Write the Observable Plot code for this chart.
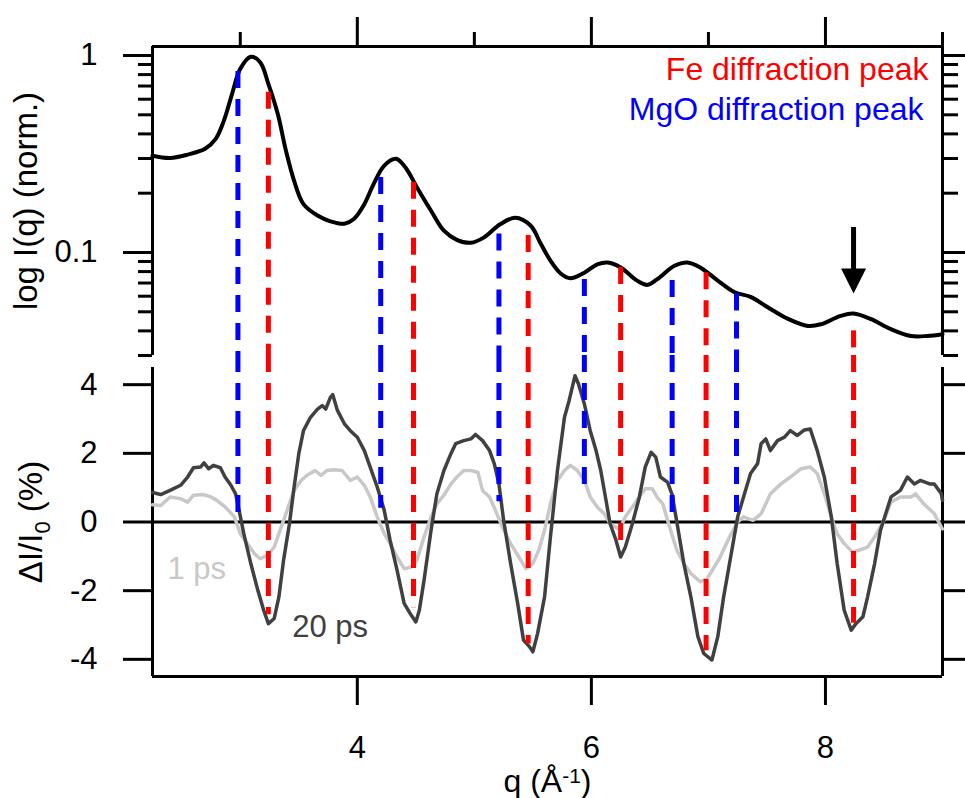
<!DOCTYPE html>
<html>
<head>
<meta charset="utf-8">
<script src="https://cdn.jsdelivr.net/npm/d3@7"></script>
<script src="https://cdn.jsdelivr.net/npm/@observablehq/plot@0.6"></script>
<style>
  html, body { margin: 0; padding: 0; background: #fff; }
  #chart { position: relative; width: 965px; height: 798px; overflow: hidden; }
  #chart svg { position: absolute; left: 0; }
</style>
</head>
<body>
<div id="chart"></div>
<script>
// ---------- data ----------
// top panel: normalised scattering intensity I(q), log scale
const qTop = [2.25, 2.40, 2.55, 2.70, 2.79, 2.86, 2.93, 3.00, 3.09, 3.17, 3.24, 3.32, 3.39, 3.46, 3.54, 3.66, 3.77, 3.89, 3.97, 4.06, 4.14, 4.23, 4.33, 4.41, 4.51, 4.63, 4.74, 4.85, 4.97, 5.08, 5.22, 5.35, 5.48, 5.57, 5.65, 5.74, 5.82, 5.94, 6.05, 6.14, 6.25, 6.39, 6.48, 6.56, 6.71, 6.82, 6.93, 7.08, 7.22, 7.36, 7.50, 7.68, 7.85, 7.96, 8.13, 8.24, 8.39, 8.56, 8.73, 8.87, 9.00];
const iTop = [0.31, 0.302, 0.314, 0.336, 0.377, 0.467, 0.639, 0.856, 0.985, 0.925, 0.718, 0.506, 0.329, 0.231, 0.176, 0.154, 0.144, 0.140, 0.148, 0.176, 0.223, 0.276, 0.299, 0.271, 0.214, 0.163, 0.129, 0.116, 0.112, 0.119, 0.139, 0.150, 0.137, 0.110, 0.091, 0.078, 0.074, 0.079, 0.087, 0.089, 0.084, 0.072, 0.0685, 0.073, 0.0856, 0.089, 0.084, 0.072, 0.063, 0.0595, 0.053, 0.046, 0.0424, 0.0432, 0.0477, 0.049, 0.0459, 0.0408, 0.0377, 0.0377, 0.0385];

// bottom panel: difference signal ΔI/I0 (%) at 20 ps
const q20 = [2.25, 2.32, 2.40, 2.49, 2.55, 2.60, 2.66, 2.69, 2.73, 2.77, 2.83, 2.87, 2.92, 2.96, 2.99, 3.03, 3.09, 3.15, 3.20, 3.24, 3.29, 3.33, 3.37, 3.42, 3.46, 3.50, 3.54, 3.60, 3.66, 3.70, 3.73, 3.77, 3.79, 3.83, 3.89, 3.94, 4.00, 4.06, 4.11, 4.17, 4.23, 4.28, 4.34, 4.40, 4.46, 4.50, 4.53, 4.57, 4.63, 4.68, 4.74, 4.80, 4.84, 4.91, 4.97, 5.01, 5.07, 5.13, 5.17, 5.21, 5.25, 5.31, 5.37, 5.42, 5.47, 5.50, 5.54, 5.60, 5.65, 5.71, 5.77, 5.81, 5.86, 5.89, 5.94, 5.99, 6.04, 6.08, 6.12, 6.16, 6.21, 6.25, 6.29, 6.35, 6.41, 6.46, 6.51, 6.55, 6.59, 6.65, 6.69, 6.73, 6.79, 6.85, 6.91, 6.96, 7.03, 7.08, 7.13, 7.19, 7.25, 7.30, 7.36, 7.42, 7.45, 7.49, 7.53, 7.59, 7.65, 7.70, 7.76, 7.82, 7.87, 7.93, 7.99, 8.05, 8.10, 8.16, 8.22, 8.26, 8.32, 8.36, 8.42, 8.47, 8.56, 8.64, 8.70, 8.76, 8.81, 8.89, 8.93, 8.99, 9.00];
const d20 = [0.86, 0.80, 0.92, 1.07, 1.31, 1.58, 1.60, 1.72, 1.55, 1.65, 1.58, 1.31, 1.07, 0.82, 0.34, -0.34, -1.21, -1.99, -2.57, -2.96, -2.81, -2.18, -1.11, -0.05, 1.02, 1.99, 2.66, 3.05, 3.29, 3.39, 3.29, 3.63, 3.71, 3.25, 2.86, 2.66, 2.47, 2.08, 1.60, 1.02, 0.34, -0.53, -1.41, -2.37, -2.71, -2.91, -2.57, -1.70, -0.24, 0.82, 1.50, 1.99, 2.28, 2.37, 2.42, 2.55, 2.37, 2.08, 1.70, 1.11, 0.05, -1.21, -2.37, -3.44, -3.63, -3.78, -3.25, -2.18, -0.44, 1.50, 3.05, 3.54, 4.26, 4.02, 3.44, 2.66, 2.08, 1.50, 0.73, -0.05, -0.53, -1.02, -0.73, -0.05, 0.73, 1.60, 2.03, 1.89, 1.31, 1.16, 0.80, 0.0, -1.21, -2.18, -3.34, -3.83, -4.02, -3.34, -2.18, -1.02, 0.15, 0.73, 1.41, 1.70, 2.28, 2.42, 2.08, 2.37, 2.47, 2.66, 2.52, 2.68, 2.71, 2.08, 1.31, 0.15, -1.21, -2.57, -3.15, -2.96, -2.76, -2.18, -1.21, -0.24, 0.73, 0.92, 1.31, 1.11, 1.21, 1.11, 1.11, 0.82, 0.63];

// bottom panel: difference signal ΔI/I0 (%) at 1 ps
const q1 = [2.25, 2.32, 2.40, 2.49, 2.55, 2.60, 2.68, 2.75, 2.80, 2.87, 2.95, 3.00, 3.06, 3.12, 3.17, 3.23, 3.29, 3.34, 3.40, 3.46, 3.52, 3.57, 3.64, 3.69, 3.74, 3.80, 3.87, 3.94, 4.00, 4.06, 4.11, 4.17, 4.23, 4.28, 4.34, 4.40, 4.46, 4.51, 4.57, 4.63, 4.68, 4.74, 4.80, 4.85, 4.91, 4.97, 5.03, 5.07, 5.13, 5.18, 5.24, 5.31, 5.38, 5.44, 5.50, 5.55, 5.60, 5.65, 5.71, 5.77, 5.82, 5.88, 5.94, 5.99, 6.05, 6.11, 6.16, 6.24, 6.29, 6.35, 6.41, 6.46, 6.52, 6.56, 6.61, 6.66, 6.73, 6.79, 6.85, 6.93, 6.99, 7.05, 7.10, 7.18, 7.25, 7.30, 7.38, 7.45, 7.53, 7.62, 7.70, 7.79, 7.87, 7.93, 7.99, 8.05, 8.10, 8.16, 8.23, 8.29, 8.36, 8.42, 8.50, 8.56, 8.64, 8.73, 8.77, 8.84, 8.93, 8.99, 9.00];
const d1 = [0.50, 0.48, 0.73, 0.68, 0.58, 0.78, 0.80, 0.73, 0.63, 0.44, 0.15, -0.34, -0.63, -0.92, -1.07, -0.97, -0.73, -0.24, 0.34, 0.92, 1.21, 1.36, 1.50, 1.36, 1.50, 1.52, 1.50, 1.21, 1.31, 1.07, 0.73, 0.15, -0.34, -0.63, -1.02, -1.36, -1.31, -1.11, -0.44, 0.15, 0.53, 0.78, 1.11, 1.31, 1.50, 1.50, 1.45, 0.92, 0.73, 0.34, -0.15, -0.63, -1.02, -1.36, -1.21, -0.82, -0.24, 0.53, 1.21, 1.50, 1.65, 1.50, 1.21, 0.73, 0.44, 0.24, -0.05, -0.22, 0.15, 0.44, 0.73, 0.97, 0.97, 0.73, 0.53, -0.05, -0.82, -1.21, -1.50, -1.74, -1.65, -1.31, -1.02, -0.44, 0.0, 0.15, 0.05, 0.24, 0.82, 1.11, 1.31, 1.55, 1.60, 1.41, 0.82, 0.15, -0.34, -0.63, -0.87, -0.82, -0.73, -0.44, 0.05, 0.58, 0.73, 0.73, 0.82, 0.53, 0.24, -0.15, -0.20];

// diffraction peak markers: q, upper end (top panel, I), lower end (bottom panel, %)
const feQ = [3.24, 4.48, 5.46, 6.25, 6.98, 8.24];
const feTop = [0.65, 0.227, 0.122, 0.084, 0.079, 0.040];
const feBottom = [-2.7, -2.5, -3.55, -0.85, -3.75, -2.95];
const mgoQ = [2.98, 4.20, 5.21, 5.94, 6.69, 7.24];
const mgoTop = [0.83, 0.240, 0.124, 0.073, 0.072, 0.0615];
const mgoBottom = [0.1, 0.4, 0.59, 0.93, 0.05, 0.1];

// arrow marking the peak near 8.24 Å^-1
const arrowQ = [8.24];
const arrowStart = [0.134];
const arrowNeck = [0.078];
const arrowTip = [0.062];

// axes
const xDomain = [2.25, 9];
const xMajorTicks = [4, 6, 8];
const xMajorLabels = ["4", "6", "8"];
const xMinorTicks = [3, 5, 7, 9];
const yTopDomain = [0.03, 1.111];
const yTopMajor = [0.1, 1];
const yTopLabels = ["0.1", "1"];
const yTopMinor = [0.03, 0.04, 0.05, 0.06, 0.07, 0.08, 0.09, 0.2, 0.3, 0.4, 0.5, 0.6, 0.7, 0.8, 0.9];
const yBotDomain = [-4.5, 4.5];
const yBotTicks = [-4, -2, 0, 2, 4];
const yBotLabels = ["-4", "-2", "0", "2", "4"];

// texts
const topYTitle = "log I(q) (norm.)";
const botYTitleParts = ["ΔI/I", "0", " (%)"];
const xTitleParts = ["q (Å", "-1", ")"];
const feLabel = "Fe diffraction peak";
const mgoLabel = "MgO diffraction peak";
const label1ps = "1 ps";
const label20ps = "20 ps";

// ---------- build tables ----------
const topData = qTop.map((q, i) => ({q, I: iTop[i]}));
const data20 = q20.map((q, i) => ({q, v: d20[i]}));
const data1 = q1.map((q, i) => ({q, v: d1[i]}));
const feData = feQ.map((q, i) => ({q, top: feTop[i], bottom: feBottom[i]}));
const mgoData = mgoQ.map((q, i) => ({q, top: mgoTop[i], bottom: mgoBottom[i]}));
const arrowData = arrowQ.map((q, i) => ({q, start: arrowStart[i], neck: arrowNeck[i], tip: arrowTip[i]}));

const FONT = '"Liberation Sans", Arial, Helvetica, sans-serif';
const STYLE = `font-family: ${FONT}; font-size: 31px; color: #000; background: transparent; overflow: visible;`;
const RED = "#ff0000", BLUE = "#0000ff";
const DASH = "17,11";
const AX = 3;
const TICKFONT = 31;

const lab = (ticks, labels) => { const m = new Map(ticks.map((t, i) => [t, labels[i]])); return d => m.get(d) ?? ""; };
const none = () => "";

const arrowHead = { draw(ctx) { ctx.moveTo(0, 0); ctx.lineTo(-12.5, -25); ctx.lineTo(12.5, -25); ctx.closePath(); } };

// ---------- top panel ----------
const topPlot = Plot.plot({
  width: 965, height: 355,
  marginTop: 46, marginBottom: 0, marginLeft: 152, marginRight: 23,
  style: STYLE,
  x: {domain: xDomain},
  y: {type: "log", domain: yTopDomain},
  marks: [
    // frame lines (top, left, right)
    Plot.ruleY([yTopDomain[1]], {stroke: "#000", strokeWidth: AX}),
    Plot.ruleX(xDomain, {stroke: "#000", strokeWidth: AX}),
    Plot.axisX({ticks: xMajorTicks, anchor: "top", tickSize: 30, tickFormat: none, label: null, strokeWidth: AX}),
    Plot.axisX({ticks: xMinorTicks, anchor: "top", tickSize: 15, tickFormat: none, label: null, strokeWidth: AX}),
    Plot.axisY({ticks: yTopMajor, anchor: "left", tickSize: 29, tickPadding: 26, tickFormat: lab(yTopMajor, yTopLabels), label: null, strokeWidth: AX, fontSize: TICKFONT}),
    Plot.axisY({ticks: yTopMinor, anchor: "left", tickSize: 14, tickFormat: none, label: null, strokeWidth: AX}),
    Plot.axisY({ticks: yTopMajor, anchor: "right", tickSize: 29, tickFormat: none, label: null, strokeWidth: AX}),
    Plot.axisY({ticks: yTopMinor, anchor: "right", tickSize: 15, tickFormat: none, label: null, strokeWidth: AX}),
    // curve
    Plot.line(topData, {x: "q", y: "I", curve: "catmull-rom", stroke: "#000", strokeWidth: 4}),
    // peak markers
    Plot.ruleX(mgoData, {x: "q", y1: "top", y2: yTopDomain[0], stroke: BLUE, strokeWidth: 5, strokeDasharray: DASH}),
    Plot.ruleX(feData, {x: "q", y1: "top", y2: yTopDomain[0], stroke: RED, strokeWidth: 5, strokeDasharray: DASH}),
    // arrow
    Plot.ruleX(arrowData, {x: "q", y1: "start", y2: "neck", stroke: "#000", strokeWidth: 5}),
    Plot.dot(arrowData, {x: "q", y: "tip", symbol: arrowHead, fill: "#000", stroke: "none"}),
    // legend texts
    Plot.text([feLabel], {text: d => d, frameAnchor: "top-right", textAnchor: "end", lineAnchor: "top", dx: -14, dy: 11, fill: RED, fontSize: 32}),
    Plot.text([mgoLabel], {text: d => d, frameAnchor: "top-right", textAnchor: "end", lineAnchor: "top", dx: -19, dy: 51, fill: BLUE, fontSize: 32}),
    // y title
    Plot.text([topYTitle], {text: d => d, frameAnchor: "left", textAnchor: "middle", lineAnchor: "middle", rotate: -90, dx: -126, fontSize: 33, fill: "#000"})
  ]
});

// ---------- bottom panel ----------
const botPlot = Plot.plot({
  width: 965, height: 443,
  marginTop: 12, marginBottom: 122, marginLeft: 152, marginRight: 23,
  style: STYLE,
  x: {domain: xDomain},
  y: {domain: yBotDomain},
  marks: [
    Plot.ruleX(xDomain, {stroke: "#000", strokeWidth: AX}),
    Plot.ruleY([yBotDomain[0]], {stroke: "#000", strokeWidth: AX}),
    Plot.ruleY([0], {stroke: "#000", strokeWidth: AX}),
    Plot.axisX({ticks: xMajorTicks, anchor: "bottom", tickSize: 29, tickPadding: 30, tickFormat: lab(xMajorTicks, xMajorLabels), label: null, strokeWidth: AX, fontSize: TICKFONT}),
    Plot.axisY({ticks: yBotTicks, anchor: "left", tickSize: 29, tickPadding: 26, tickFormat: lab(yBotTicks, yBotLabels), label: null, strokeWidth: AX, fontSize: TICKFONT}),
    Plot.axisY({ticks: yBotTicks, anchor: "right", tickSize: 29, tickFormat: none, label: null, strokeWidth: AX}),
    // curves
    Plot.line(data1, {x: "q", y: "v", stroke: "#c8c8c8", strokeWidth: 3.5, strokeLinejoin: "round"}),
    Plot.line(data20, {x: "q", y: "v", stroke: "#404040", strokeWidth: 3.5, strokeLinejoin: "round"}),
    // peak markers continuing from the top panel (start just above the frame, at the SVG top edge)
    Plot.ruleX(mgoData, {x: "q", y1: yBotDomain[1] + 0.35, y2: "bottom", stroke: BLUE, strokeWidth: 5, strokeDasharray: DASH}),
    Plot.ruleX(feData, {x: "q", y1: yBotDomain[1] + 0.35, y2: "bottom", stroke: RED, strokeWidth: 5, strokeDasharray: DASH}),
    // series labels
    Plot.text([label1ps], {text: d => d, x: 2.378, y: -1.36, textAnchor: "start", lineAnchor: "middle", fill: "#c8c8c8", fontSize: TICKFONT}),
    Plot.text([label20ps], {text: d => d, x: 3.444, y: -3.06, textAnchor: "start", lineAnchor: "middle", fill: "#404040", fontSize: TICKFONT}),
    // titles
    Plot.text([botYTitleParts.join("")], {text: d => d, frameAnchor: "left", textAnchor: "middle", lineAnchor: "middle", rotate: -90, dx: -121, fontSize: 33, fill: "#000"}),
    Plot.text([xTitleParts.join("")], {text: d => d, frameAnchor: "bottom", textAnchor: "middle", lineAnchor: "middle", dy: 105, fontSize: 32, fill: "#000"})
  ]
});

// sub/superscripts in the titles
function scriptify(svg, parts, shift, small) {
  const full = parts.join("");
  d3.select(svg).selectAll("text").filter(function () { return this.textContent === full; }).each(function () {
    const t = d3.select(this);
    t.text(parts[0]);
    t.append("tspan").attr("dy", shift).attr("font-size", small).text(parts[1]);
    t.append("tspan").attr("dy", -shift).text(parts[2]);
  });
}
scriptify(botPlot, botYTitleParts, 8, 22);
scriptify(botPlot, xTitleParts, -9, 21);

topPlot.style.top = "0px";
botPlot.style.top = "355px";
const chart = document.getElementById("chart");
chart.appendChild(topPlot);
chart.appendChild(botPlot);
</script>
</body>
</html>
